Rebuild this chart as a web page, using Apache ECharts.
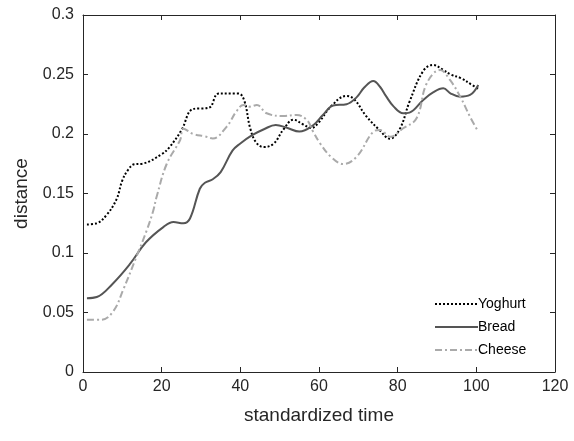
<!DOCTYPE html>
<html>
<head>
<meta charset="utf-8">
<script src="https://cdn.jsdelivr.net/npm/echarts@6/dist/echarts.min.js"></script>
<style>html,body{margin:0;padding:0;background:#fff;}#c{width:574px;height:441px;}</style>
</head>
<body>
<div id="c"></div>
<script>
const seriesNames = ['Yoghurt', 'Bread', 'Cheese'];
const xTicks = [0, 20, 40, 60, 80, 100, 120];
const yTicks = [0, 0.05, 0.1, 0.15, 0.2, 0.25, 0.3];

const yoghurtX = [1, 3.5, 6, 8.5, 10, 11.5, 13, 15, 20, 22, 25, 28, 32, 34.5, 39.5, 41, 42.5, 44, 46, 48.5, 51, 53.5, 56, 58, 60, 63, 67, 69, 72, 75.5, 78, 80.5, 83, 86.5, 89, 91.5, 93.5, 96, 99, 100.5];
const yoghurtY = [0.124, 0.125, 0.132, 0.145, 0.161, 0.17, 0.1745, 0.175, 0.183, 0.189, 0.203, 0.221, 0.222, 0.234, 0.234, 0.228, 0.205, 0.193, 0.189, 0.192, 0.204, 0.212, 0.208, 0.205, 0.21, 0.223, 0.232, 0.229, 0.215, 0.203, 0.196, 0.204, 0.227, 0.253, 0.258, 0.254, 0.25, 0.247, 0.241, 0.238];

const breadX = [1, 3.5, 7.5, 12, 16, 20.5, 23, 25.5, 27.2, 29.7, 31, 33, 35, 38, 40, 43, 46, 49, 52, 55, 58.6, 61, 63.6, 67, 69.6, 71.5, 73.8, 75.5, 77, 79, 81.4, 83, 86.5, 89, 91.6, 93.5, 95.9, 98.4, 100.5];
const breadY = [0.062, 0.063, 0.074, 0.091, 0.109, 0.122, 0.126, 0.125, 0.129, 0.154, 0.159, 0.162, 0.168, 0.186, 0.192, 0.199, 0.204, 0.2076, 0.205, 0.202, 0.2076, 0.216, 0.224, 0.225, 0.231, 0.239, 0.2445, 0.2397, 0.232, 0.223, 0.2174, 0.218, 0.2286, 0.235, 0.2384, 0.234, 0.2314, 0.2328, 0.2412];

const cheeseX = [1, 4.7, 7.7, 10.2, 13.6, 16.2, 17.9, 18.7, 21.3, 24.7, 25.5, 28, 31, 33, 36.5, 39, 40.8, 42.5, 44.2, 46.7, 50.9, 54.3, 56.9, 58.5, 60.3, 63, 66.2, 69.6, 73.8, 75.5, 78.1, 81.4, 84.8, 87.4, 90.8, 93.3, 95.9, 98.4, 100.5];
const cheeseY = [0.044, 0.044, 0.051, 0.069, 0.097, 0.119, 0.136, 0.147, 0.175, 0.195, 0.2045, 0.2, 0.198, 0.1963, 0.206, 0.219, 0.2244, 0.223, 0.2244, 0.2174, 0.2151, 0.216, 0.2118, 0.202, 0.192, 0.181, 0.1748, 0.181, 0.2019, 0.2034, 0.1977, 0.2048, 0.2132, 0.2426, 0.2538, 0.2454, 0.2314, 0.2145, 0.2019];

function pairs(xs, ys) { return xs.map((x, i) => [x, ys[i]]); }

const axisColor = '#262626';
const font = 'Liberation Sans, Arial, sans-serif';

const chart = echarts.init(document.getElementById('c'), null, { renderer: 'canvas' });

const baseX = {
  type: 'value', min: xTicks[0], max: xTicks[xTicks.length - 1], interval: 20,
  axisLine: { show: true, onZero: false, lineStyle: { color: axisColor, width: 1 } },
  axisTick: { show: true, inside: true, length: 5, lineStyle: { color: axisColor } },
  splitLine: { show: false }
};
const baseY = {
  type: 'value', min: yTicks[0], max: yTicks[yTicks.length - 1], interval: 0.05,
  axisLine: { show: true, onZero: false, lineStyle: { color: axisColor, width: 1 } },
  axisTick: { show: true, inside: true, length: 5, lineStyle: { color: axisColor } },
  splitLine: { show: false }
};

chart.setOption({
  animation: false,
  backgroundColor: '#fff',
  grid: { left: 83, right: 19, top: 15, bottom: 69, containLabel: false },
  xAxis: [
    Object.assign({}, baseX, {
      position: 'bottom',
      axisLabel: { color: axisColor, fontSize: 16, fontFamily: font, margin: 7 },
      name: 'standardized time', nameLocation: 'middle', nameGap: 34,
      nameTextStyle: { color: axisColor, fontSize: 19, fontFamily: font }
    }),
    Object.assign({}, baseX, { position: 'top', axisLabel: { show: false } })
  ],
  yAxis: [
    Object.assign({}, baseY, {
      position: 'left',
      axisLabel: { color: axisColor, fontSize: 16, fontFamily: font, margin: 9,
        formatter: v => String(Math.round(v * 100) / 100) },
      name: 'distance', nameLocation: 'middle', nameGap: 52, nameRotate: 90,
      nameTextStyle: { color: axisColor, fontSize: 19, fontFamily: font }
    }),
    Object.assign({}, baseY, { position: 'right', axisLabel: { show: false } })
  ],
  legend: {
    orient: 'vertical', left: 429, top: 292, itemWidth: 43, itemHeight: 14, itemGap: 9,
    itemStyle: { opacity: 0 },
    textStyle: { color: '#000', fontSize: 14, fontFamily: font, padding: [0, 0, 0, -5] },
    data: seriesNames
  },
  series: [
    { name: seriesNames[0], type: 'line', smooth: 0.4, symbol: 'none', data: pairs(yoghurtX, yoghurtY),
      lineStyle: { color: '#000', width: 2, type: [2, 2] }, itemStyle: { color: '#000' } },
    { name: seriesNames[1], type: 'line', smooth: 0.4, symbol: 'none', data: pairs(breadX, breadY),
      lineStyle: { color: '#555', width: 2, type: 'solid' }, itemStyle: { color: '#555' } },
    { name: seriesNames[2], type: 'line', smooth: 0.4, symbol: 'none', data: pairs(cheeseX, cheeseY),
      lineStyle: { color: '#aaa', width: 2, type: [7, 3, 2, 3] }, itemStyle: { color: '#aaa' } }
  ]
});
</script>
</body>
</html>
